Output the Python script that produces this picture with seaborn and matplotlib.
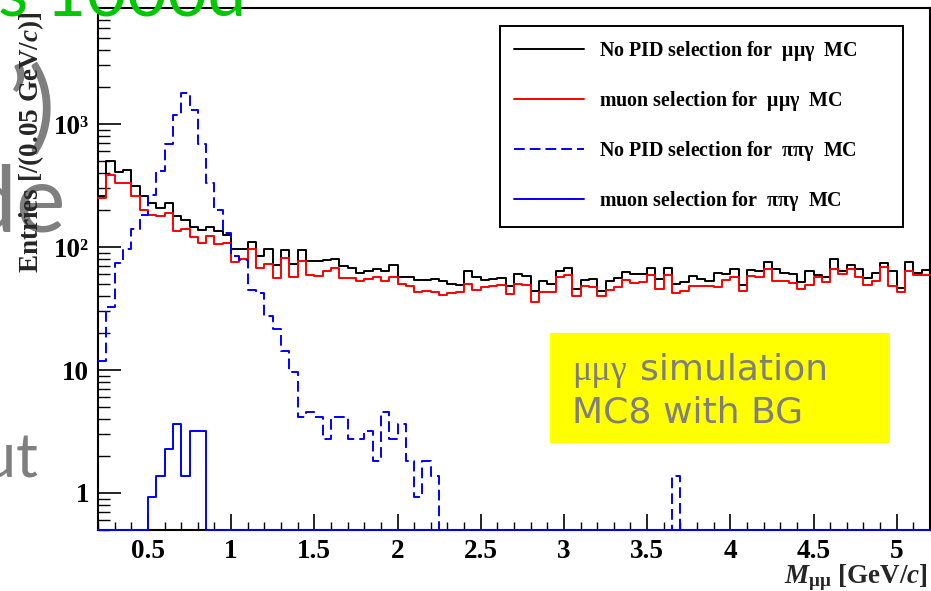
import numpy as np
import pandas as pd
import matplotlib
matplotlib.use("Agg")
import matplotlib.pyplot as plt
import seaborn as sns
from matplotlib.lines import Line2D
from matplotlib.patches import Rectangle
from matplotlib.ticker import MultipleLocator, LogLocator, NullFormatter, FuncFormatter

# binning of the di-lepton invariant mass, 0.05 GeV/c per bin
bin_lo, bin_hi, bin_w = 0.2, 5.2, 0.05

# mumu-gamma MC, no PID selection
mumu_nopid = [
    258, 497, 405, 420, 311, 258, 228, 208, 228, 180,
    167, 147, 138, 145, 134, 126, 96, 97, 110, 84,
    96, 72, 95, 73, 95, 77, 77, 78, 80, 70,
    68, 62, 64, 66, 64, 71, 57, 57, 54, 54,
    55, 53, 50.5, 49.5, 63.5, 57, 54, 55, 56, 48,
    60, 58, 44, 53, 50.5, 63.5, 68, 46, 54, 55,
    44.3, 53, 56, 63, 60, 60.5, 68, 55, 68, 50.5,
    51.6, 58.6, 55.5, 53.3, 61.6, 60.5, 66.7, 49.5, 65.5, 63.5,
    75, 66, 62, 60, 51.6, 64, 59, 57, 80, 63.5,
    71, 66, 56, 61.6, 73.6, 63.5, 46.5, 75, 62, 65.5,
]

# mumu-gamma MC, muon selection
mumu_muon = [
    250, 387, 335, 335, 258, 200, 181, 180, 188, 136,
    140, 121, 107, 124, 105, 107, 76, 80, 96, 68,
    73, 56, 82, 57.5, 77, 59, 58, 64, 68, 56,
    56, 53, 55, 57, 52.7, 57, 50.5, 48, 43, 44.3,
    43, 41, 42, 43, 50.5, 45, 47.5, 48.7, 49.5, 41.5,
    50.5, 49.5, 35.8, 43, 43, 57, 59, 39.8, 48.7, 47.5,
    39.8, 45, 47.5, 53.7, 51, 52, 59, 46, 59, 42.3,
    44, 48.7, 48.7, 48, 47.2, 53.7, 56.8, 44.3, 57.8, 56.8,
    66, 52.7, 52.7, 51, 45.8, 49, 56.8, 51.6, 66.7, 60.5,
    66.7, 56.8, 49, 53.3, 68.7, 48.7, 43, 64.3, 59.7, 59.7,
]

# pipi-gamma MC, no PID selection
pipi_nopid = [
    11.9, 32.5, 74, 97, 140, 183, 265, 412, 692, 1190,
    1790, 1306, 692, 332, 199, 130, 85, 78, 45, 42,
    27.4, 21.6, 14.2, 9.7, 4.12, 4.58, 4.12, 2.75, 4.12, 4.12,
    2.75, 2.75, 3.21, 1.83, 4.58, 2.75, 3.67, 1.83, 0.92, 1.83,
    1.37,
] + [0] * 28 + [1.37] + [0] * 30

# pipi-gamma MC, muon selection
pipi_muon = [0] * 6 + [0.92, 1.37, 2.29, 3.67, 1.37, 3.21, 3.21] + [0] * 87

legend_labels = [
    r"No PID selection for  $\mu\mu\gamma$  MC",
    r"muon selection for  $\mu\mu\gamma$  MC",
    r"No PID selection for  $\pi\pi\gamma$  MC",
    r"muon selection for  $\pi\pi\gamma$  MC",
]
y_ticks = [1, 10, 100, 1000]
y_tick_labels = ["1", "10", "10\u00b2", "10\u00b3"]

sns.set_theme(style="ticks")
plt.rcParams.update({
    "font.family": ["Liberation Serif", "DejaVu Serif"],
    "font.weight": "bold",
    "mathtext.fontset": "custom",
    "mathtext.rm": "Liberation Serif",
    "mathtext.it": "Liberation Serif",
    "mathtext.bf": "Liberation Serif:bold",
    "mathtext.bfit": "Liberation Serif:italic:bold",
    "axes.linewidth": 1.5,
    "axes.edgecolor": "black",
    "xtick.color": "black",
    "ytick.color": "black",
    "text.color": "black",
})

fig = plt.figure(figsize=(9.31, 5.91), dpi=100)
fig.patch.set_facecolor("white")
ax = fig.add_axes([98 / 931, 61 / 591, 832 / 931, 522 / 591])
ax.set_facecolor("white")

edges = [round(bin_lo + i * bin_w, 4) for i in range(len(mumu_nopid) + 1)]
centers = [e + bin_w / 2 for e in edges[:-1]]
y_min, y_max = 0.5, 8.8e3

series = [
    (mumu_nopid, "black", "-"),
    (mumu_muon, "red", "-"),
    (pipi_nopid, "blue", (0, (5.5, 2.6))),
    (pipi_muon, "blue", "-"),
]

handles = []
for vals, color, ls in series:
    v = np.asarray(vals, dtype=float)
    # empty bins sit on the frame floor, as in ROOT
    v = np.where(v > 0, v, y_min)
    df = pd.DataFrame({"mass": centers, "entries": v})
    sns.histplot(data=df, x="mass", weights="entries", bins=edges,
                 element="step", fill=False, color=color, linewidth=1.4,
                 linestyle=ls, ax=ax, clip_on=False)
    handles.append(Line2D([], [], color=color, lw=1.4, linestyle=ls))

ax.set_yscale("log")
ax.set_xlim(bin_lo, bin_hi)
ax.set_ylim(y_min, y_max)

ax.xaxis.set_major_locator(MultipleLocator(0.5))
ax.xaxis.set_minor_locator(MultipleLocator(0.1))
ax.xaxis.set_major_formatter(FuncFormatter(lambda v, p: f"{v:g}"))
ax.set_yticks(y_ticks, labels=y_tick_labels)
ax.yaxis.set_minor_locator(LogLocator(base=10, subs=np.arange(2, 10)))
ax.yaxis.set_minor_formatter(NullFormatter())

ax.tick_params(axis="y", which="major", direction="in", length=16.5, width=1.2,
               pad=6.5, labelsize=19.5, left=True, right=False)
ax.tick_params(axis="y", which="minor", direction="in", length=8.6, width=1.0,
               left=True, right=False)
ax.tick_params(axis="x", which="major", direction="in", length=11.3, width=1.2,
               pad=6.5, labelsize=19.5, bottom=True, top=False)
ax.tick_params(axis="x", which="minor", direction="in", length=5.5, width=1.0,
               bottom=True, top=False)
for lab in ax.get_xticklabels() + ax.get_yticklabels():
    lab.set_fontweight("bold")

for s in ax.spines.values():
    s.set_visible(True)
    s.set_color("black")
    s.set_linewidth(1.5)
    s.set_zorder(1)

ax.set_xlabel(r"$\mathbfit{M}_{\mu\mu}$ [GeV/$\mathbfit{c}$]", fontsize=19.5,
              fontweight="bold", loc="right")
ax.xaxis.set_label_coords(0.9975, -0.062)
ax.set_ylabel(r"Entries [/(0.05 GeV/$\mathbfit{c}$)]", fontsize=19.5,
              fontweight="bold", loc="top")
ax.yaxis.set_label_coords(-0.063, 0.9924)
ax.yaxis.label.set_zorder(10)

leg = ax.legend(handles, legend_labels, loc="upper left",
                bbox_to_anchor=(0.4832, 0.0, 0.4844, 0.9661), mode="expand",
                borderaxespad=0, frameon=True, fancybox=False, shadow=False,
                edgecolor="black", framealpha=1,
                handlelength=3.5, handletextpad=0.75, borderpad=0.68,
                labelspacing=1.3, prop={"weight": "bold", "size": 14.4})
leg.get_frame().set_linewidth(1.4)

# slide elements laid over the figure
def px(x, y):
    return x / 931, 1 - y / 591

box_x0, box_y0 = px(550, 442.7)
fig.patches.append(Rectangle((box_x0, box_y0), 340 / 931, 109.4 / 591,
                             transform=fig.transFigure, facecolor="#ffff00",
                             edgecolor="none", zorder=5))
gray = "#7f7f7f"
fig.text(*px(571.7, 380), "\u03bc\u03bc\u03b3", family="Liberation Serif",
         fontweight="normal", fontsize=26, color=gray, va="baseline", zorder=6)
fig.text(*px(640, 380), "simulation", family="DejaVu Sans", fontweight="normal",
         fontsize=26, color=gray, va="baseline", zorder=6)
fig.text(*px(571.7, 422.7), "MC8 with BG", family="DejaVu Sans",
         fontweight="normal", fontsize=26, color=gray, va="baseline", zorder=6)

fig.text(*px(246, 15), "ss 1000d", family="Lato", fontweight="normal",
         fontsize=50, color="#00c800", ha="right", va="baseline", zorder=6)
fig.text(*px(56, 140), "\u2019)", family="Lato", fontweight="normal",
         fontsize=72, color=gray, ha="right", va="baseline", zorder=-1)
fig.text(*px(66, 232), "de", family="Lato", fontweight="normal",
         fontsize=68, color=gray, ha="right", va="baseline", zorder=-1)
fig.text(*px(38, 478), "ut", family="Lato", fontweight="normal",
         fontsize=44, color=gray, ha="right", va="baseline", zorder=-1)

fig.savefig("out.png", dpi=100, facecolor="white")
